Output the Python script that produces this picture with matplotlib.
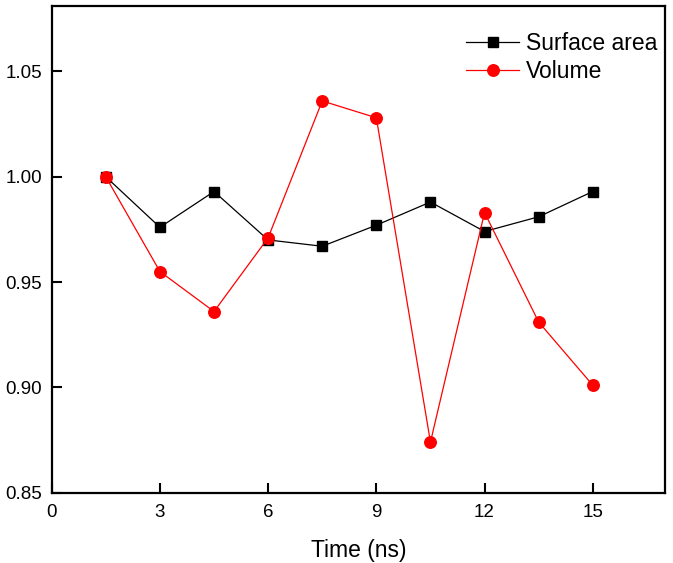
import numpy as np
import matplotlib
matplotlib.use("Agg")
import matplotlib.pyplot as plt

plt.rcParams['font.family'] = ['Liberation Sans', 'DejaVu Sans']

time_ns = [1.5, 3, 4.5, 6, 7.5, 9, 10.5, 12, 13.5, 15]
surface_area = [1.000, 0.976, 0.993, 0.970, 0.967, 0.977, 0.988, 0.974, 0.981, 0.993]
volume = [1.000, 0.955, 0.936, 0.971, 1.036, 1.028, 0.874, 0.983, 0.931, 0.901]

fig = plt.figure(figsize=(6.73, 5.63), dpi=100)
ax = fig.add_axes([0.0768, 0.125, 0.9112, 0.864])

ax.plot(time_ns, surface_area, color='black', lw=0.9, marker='s', ms=7.3,
        label='Surface area')
ax.plot(time_ns, volume, color='#ff0000', lw=0.9, marker='o', ms=8.3,
        label='Volume')

ax.set_xlim(0, 17)
ax.set_ylim(0.85, 1.081)
ax.set_xticks(np.arange(0, 16, 3))
ax.set_yticks([0.85, 0.90, 0.95, 1.00, 1.05])
ax.set_yticklabels(['0.85', '0.90', '0.95', '1.00', '1.05'])
ax.tick_params(direction='in', length=7, width=1.5, labelsize=13.5)
ax.tick_params(axis='x', pad=8)
ax.tick_params(axis='y', pad=7)
for s in ax.spines.values():
    s.set_linewidth(1.6)

ax.set_xlabel('Time (ns)', fontsize=16.5, labelpad=13)

ax.legend(loc='upper right', bbox_to_anchor=(1.01, 0.975), frameon=False,
          fontsize=16.5, handlelength=2.3, handletextpad=0.3, labelspacing=0.22,
          borderaxespad=0.2)

fig.savefig('out.png', dpi=100)
